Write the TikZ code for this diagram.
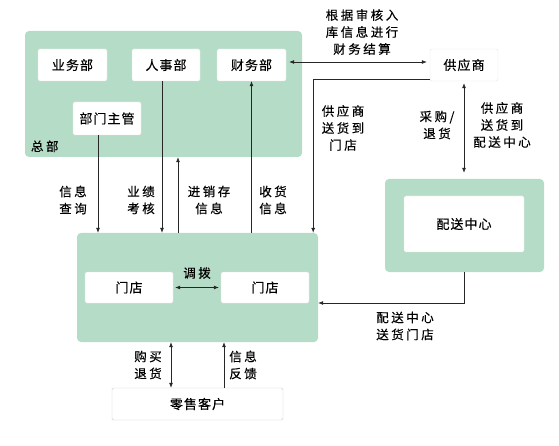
\documentclass[tikz,border=0pt]{standalone}
\usepackage{fontspec}
\setmainfont{Noto Sans CJK SC}[LetterSpace=8,FakeBold=0.3]
\newfontfamily\lblfont{Noto Sans CJK SC}[LetterSpace=20,FakeBold=0.4]
\usetikzlibrary{arrows.meta}
\definecolor{qing}{RGB}{181,220,199}

\begin{document}
\begin{tikzpicture}[x=1pt,y=-1pt,>={Latex[length=5pt,width=4pt]},
  area/.style={fill=qing,rounded corners=4pt,inner sep=0pt},
  box/.style={fill=white,draw=black!10,rounded corners=1.5pt,inner sep=0pt,font=\fontsize{13}{15}\selectfont},
  lbl/.style={align=center,inner sep=0pt,font=\lblfont\fontsize{12.5}{17}\selectfont},
  link/.style={draw=black!85,line width=0.7pt}]
  \useasboundingbox (0,0) rectangle (559,446);
  \node[area,minimum width=277pt,minimum height=126pt] (hq) at (163.5,94) {};
  \node[area,minimum width=241pt,minimum height=109pt] (store) at (197.5,287.5) {};
  \node[area,minimum width=159pt,minimum height=93pt] (dcarea) at (464.5,225.5) {};
  \node[box,minimum width=69pt,minimum height=32pt] (yewu) at (72.5,65) {业务部};
  \node[box,minimum width=68pt,minimum height=32pt] (renshi) at (166,65) {人事部};
  \node[box,minimum width=69pt,minimum height=32pt] (caiwu) at (251.5,65) {财务部};
  \node[box,minimum width=68pt,minimum height=33pt] (zhuguan) at (107,118.5) {部门主管};
  \node[lbl,anchor=south west] (zongbu) at ([xshift=6pt,yshift=5pt]hq.south west) {总部};
  \node[box,minimum width=68pt,minimum height=32pt] (gys) at (464,65) {供应商};
  \node[box,minimum width=120pt,minimum height=56pt] (dc) at (464,224) {配送中心};
  \node[box,minimum width=88pt,minimum height=31pt] (mdL) at (129,287.5) {门店};
  \node[box,minimum width=88pt,minimum height=31pt] (mdR) at (265,287.5) {门店};
  \node[box,draw=black!20,minimum width=171pt,minimum height=32pt] (kehu) at (197.5,404) {零售客户};

  \node[lbl] (jiesuan) at (362,32) {根据审核入\\库信息进行\\财务结算};
  \node[lbl] (songmd) at (343,128) {供应商\\送货到\\门店};
  \node[lbl] (caigou) at (437,125) {采购/\\退货};
  \node[lbl] (songdc) at (502,125) {供应商\\送货到\\配送中心};
  \node[lbl] (dcsong) at (405,326) {配送中心\\送货门店};
  \node[lbl] (chaxun) at (73,200) {信息\\查询};
  \node[lbl] (kaohe) at (141,200) {业绩\\考核};
  \node[lbl] (jxc) at (209,200) {进销存\\信息};
  \node[lbl] (shouhuo) at (273,200) {收货\\信息};
  \node[lbl] (diaobo) at (197,273) {调拨};
  \node[lbl] (goumai) at (148,365) {购买\\退货};
  \node[lbl] (fankui) at (243,365) {信息\\反馈};

  \draw[link,<->,shorten <=3pt,shorten >=3pt] ([yshift=3pt]caiwu.east) -- ([yshift=3pt]gys.west);
  \draw[link,->] ([yshift=2pt]gys.south west) -| ([xshift=-5pt]store.north east);
  \draw[link,<->,shorten <=2pt,shorten >=6pt] (gys.south) -- (gys.south |- dcarea.north);
  \draw[link,->] (dcarea.south) |- ([yshift=-15.5pt]store.east);
  \draw[link,->] ([xshift=-9pt]zhuguan.south) -- ([xshift=-9pt]zhuguan.south |- store.north);
  \draw[link,->] ([xshift=-4pt]renshi.south) -- ([xshift=-4pt]renshi.south |- store.north);
  \draw[link,->] ([xshift=-19.5pt]store.north) -- ([xshift=-19.5pt]store.north |- hq.south);
  \draw[link,->] (caiwu.south |- store.north) -- (caiwu.south);
  \draw[link,<->,shorten <=2pt,shorten >=2pt] (mdL.east) -- (mdR.west);
  \draw[link,<->] ([xshift=-26.5pt]store.south) -- ([xshift=-26.5pt]store.south |- kehu.north);
  \draw[link,->] ([xshift=26.5pt]store.south |- kehu.north) -- ([xshift=26.5pt]store.south);
\end{tikzpicture}
\end{document}
